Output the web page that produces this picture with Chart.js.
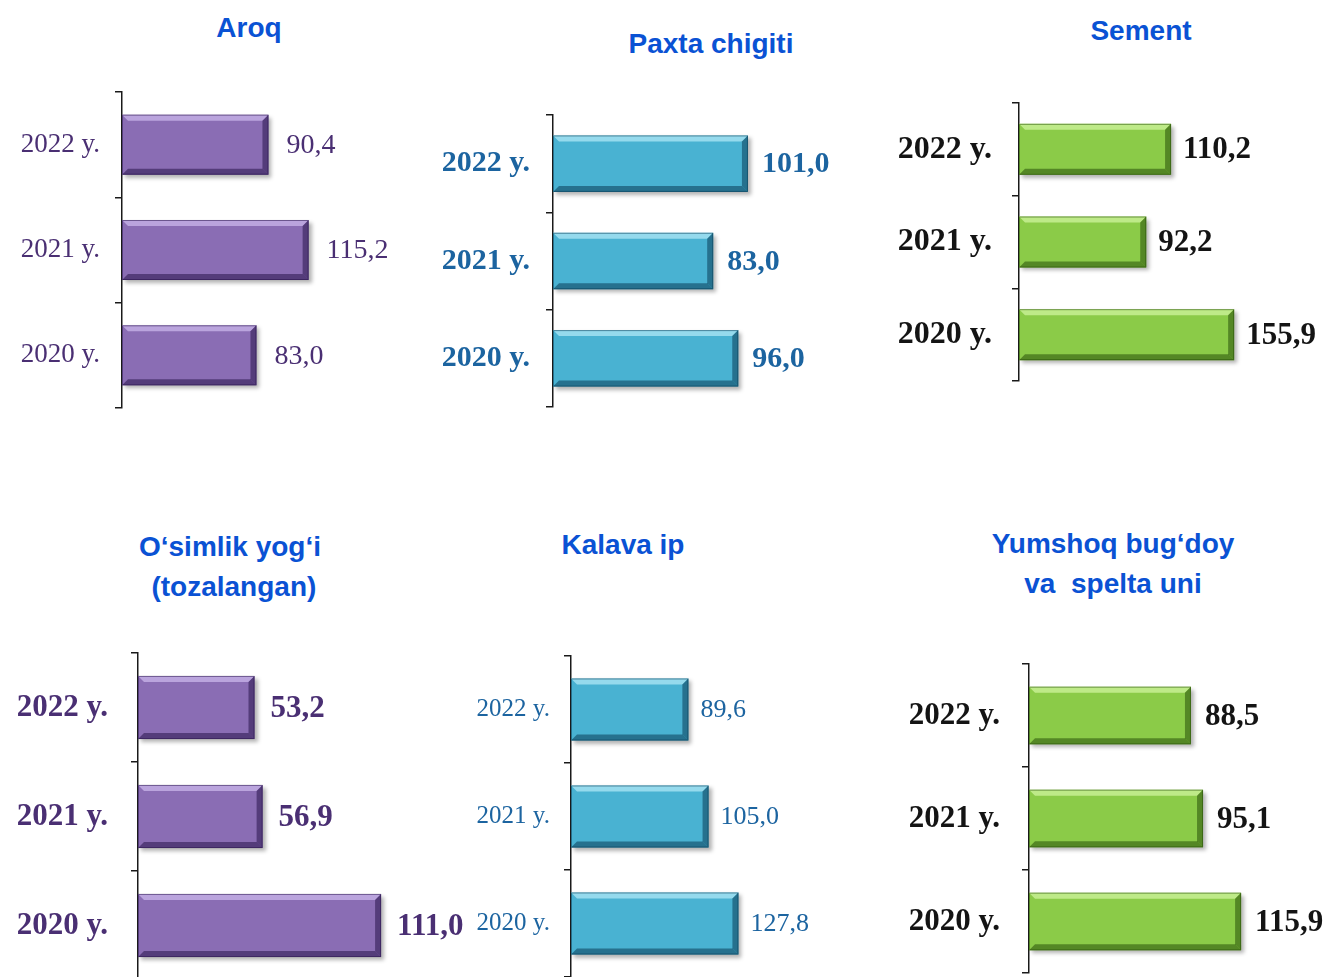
<!DOCTYPE html>
<html>
<head>
<meta charset="utf-8">
<title>Ishlab chiqarish</title>
<script src="https://cdn.jsdelivr.net/npm/chart.js@4.4.1/dist/chart.umd.min.js"></script>
<style>
  html, body { margin: 0; padding: 0; background: #fff; overflow: hidden; }
  #wrap { position: relative; width: 1327px; height: 977px; }
  #wrap canvas { position: absolute; }
  .title {
    position: absolute; width: 400px; text-align: center; white-space: pre;
    font-family: "Liberation Sans", Arial, sans-serif; font-weight: bold;
    font-size: 28px; line-height: 40px; color: #0a52d4;
  }
</style>
</head>
<body>
<div id="wrap"></div>
<script>
// categories (top to bottom)
const categories = ['2022 y.', '2021 y.', '2020 y.'];

// series values, same order as categories
const aroqValues = [90.4, 115.2, 83.0];
const paxtaValues = [101.0, 83.0, 96.0];
const sementValues = [110.2, 92.2, 155.9];
const yogValues = [53.2, 56.9, 111.0];
const kalavaValues = [89.6, 105.0, 127.8];
const unValues = [88.5, 95.1, 115.9];

const titles = ['Aroq', 'Paxta chigiti', 'Sement', 'O‘simlik yog‘i\n (tozalangan)', 'Kalava ip', 'Yumshoq bug‘doy\nva  spelta uni'];

// bar colour themes
const themes = {
    purple: { fill: '#8a6db4', light: 'rgba(225,210,255,0.55)', dark: 'rgba(40,20,75,0.55)', text: '#4a2f73' },
    blue: { fill: '#49b2d2', light: 'rgba(200,245,255,0.6)', dark: 'rgba(10,60,85,0.55)', text: '#1c64a0' },
    green: { fill: '#8bcb48', light: 'rgba(225,255,180,0.6)', dark: 'rgba(40,80,10,0.55)', text: '#141414' }
};

// panel layout
const panels = [
    { values: aroqValues, title: 0, tx: 249, ty: 8, axisX: 122, top: 92, bottom: 408, width: 278, ppu: 1.62, bar: 0.57, theme: 'purple', size: 27, weight: 'normal', vsize: 28, pad: 15, gap: 18 },
    { values: paxtaValues, title: 1, tx: 711, ty: 24, axisX: 553, top: 115, bottom: 407, width: 287, ppu: 1.93, bar: 0.58, theme: 'blue', size: 30, weight: 'bold', vsize: 30, pad: 16, gap: 14 },
    { values: sementValues, title: 2, tx: 1141, ty: 11, axisX: 1019, top: 103, bottom: 381, width: 308, ppu: 1.38, bar: 0.55, theme: 'green', size: 32, weight: 'bold', vsize: 31, pad: 20, gap: 12 },
    { values: yogValues, title: 3, tx: 230, ty: 527, axisX: 138, top: 653, bottom: 980, width: 332, ppu: 2.19, bar: 0.58, theme: 'purple', size: 31, weight: 'bold', vsize: 31, pad: 23, gap: 16 },
    { values: kalavaValues, title: 4, tx: 623, ty: 525, axisX: 571, top: 656, bottom: 977, width: 309, ppu: 1.31, bar: 0.58, theme: 'blue', size: 25, weight: 'normal', vsize: 26, pad: 14, gap: 12 },
    { values: unValues, title: 5, tx: 1113, ty: 524, axisX: 1029, top: 664, bottom: 973, width: 298, ppu: 1.83, bar: 0.56, theme: 'green', size: 31, weight: 'bold', vsize: 31, pad: 22, gap: 14 }
];

const axisW = 140;
const wrap = document.getElementById('wrap');

// 3D bevel on each bar
const bevelPlugin = {
    id: 'bevel',
    afterDatasetsDraw(chart, args, opts) {
        const ctx = chart.ctx;
        chart.getDatasetMeta(0).data.forEach(function (el) {
            const p = el.getProps(['x', 'y', 'base', 'height'], true);
            const x0 = p.base, x1 = p.x, y0 = p.y - p.height / 2, y1 = p.y + p.height / 2;
            const b = 6;
            ctx.save();
            ctx.fillStyle = opts.light;
            ctx.beginPath();
            ctx.moveTo(x0, y0); ctx.lineTo(x1, y0); ctx.lineTo(x1 - b, y0 + b); ctx.lineTo(x0 + b, y0 + b);
            ctx.closePath(); ctx.fill();
            ctx.fillStyle = opts.dark;
            ctx.beginPath();
            ctx.moveTo(x0, y1); ctx.lineTo(x1, y1); ctx.lineTo(x1 - b, y1 - b); ctx.lineTo(x0 + b, y1 - b);
            ctx.closePath(); ctx.fill();
            ctx.beginPath();
            ctx.moveTo(x1, y0); ctx.lineTo(x1, y1); ctx.lineTo(x1 - b, y1 - b); ctx.lineTo(x1 - b, y0 + b);
            ctx.closePath(); ctx.fill();
            ctx.strokeStyle = opts.dark;
            ctx.lineWidth = 1;
            ctx.strokeRect(x0 + 0.5, y0 + 0.5, x1 - x0 - 1, y1 - y0 - 1);
            ctx.restore();
        });
    }
};

// soft shadow under bars
const shadowPlugin = {
    id: 'barShadow',
    beforeDatasetsDraw(chart) {
        const ctx = chart.ctx;
        ctx.save();
        ctx.shadowColor = 'rgba(0,0,0,0.3)';
        ctx.shadowOffsetX = 3;
        ctx.shadowOffsetY = 3;
        ctx.shadowBlur = 4;
    },
    afterDatasetsDraw(chart) {
        chart.ctx.restore();
    }
};

// value text to the right of each bar
const valuePlugin = {
    id: 'valueLabels',
    afterDatasetsDraw(chart, args, opts) {
        const ctx = chart.ctx;
        const vals = chart.data.datasets[0].data;
        ctx.save();
        ctx.font = opts.font;
        ctx.fillStyle = opts.color;
        ctx.textAlign = 'left';
        ctx.textBaseline = 'middle';
        chart.getDatasetMeta(0).data.forEach(function (el, i) {
            const p = el.getProps(['x', 'y'], true);
            ctx.fillText(vals[i].toFixed(1).replace('.', ','), p.x + opts.gap, p.y + 1);
        });
        ctx.restore();
    }
};

panels.forEach(function (p) {
    const th = themes[p.theme];

    const t = document.createElement('div');
    t.className = 'title';
    t.textContent = titles[p.title];
    t.style.left = (p.tx - 200) + 'px';
    t.style.top = p.ty + 'px';
    wrap.appendChild(t);

    const cv = document.createElement('canvas');
    cv.width = axisW + p.width;
    cv.height = p.bottom - p.top + 4;
    cv.style.left = (p.axisX - axisW) + 'px';
    cv.style.top = (p.top - 2) + 'px';
    wrap.appendChild(cv);

    new Chart(cv.getContext('2d'), {
        type: 'bar',
        data: {
            labels: categories,
            datasets: [{
                data: p.values,
                backgroundColor: th.fill,
                borderWidth: 0,
                barPercentage: p.bar,
                categoryPercentage: 1
            }]
        },
        options: {
            indexAxis: 'y',
            responsive: false,
            animation: false,
            layout: { padding: { top: 2, bottom: 2, left: 0, right: 0 } },
            plugins: {
                legend: { display: false },
                tooltip: { enabled: false },
                bevel: { light: th.light, dark: th.dark },
                valueLabels: {
                    font: p.weight + ' ' + p.vsize + 'px "Liberation Serif", "Times New Roman", serif',
                    color: th.text,
                    gap: p.gap
                }
            },
            scales: {
                x: { display: false, min: 0, max: p.width / p.ppu },
                y: {
                    afterFit: function (s) {
                        s.width = axisW;
                        s.paddingTop = 0;
                        s.paddingBottom = 0;
                    },
                    grid: { drawOnChartArea: false, drawTicks: true, tickLength: 7, color: '#1a1a1a', lineWidth: 1.5, offset: true },
                    border: { display: true, color: '#1a1a1a', width: 1.5 },
                    ticks: {
                        color: th.text,
                        padding: p.pad,
                        font: { family: '"Liberation Serif", "Times New Roman", serif', size: p.size, weight: p.weight }
                    }
                }
            }
        },
        plugins: [shadowPlugin, bevelPlugin, valuePlugin]
    });
});
</script>
</body>
</html>
